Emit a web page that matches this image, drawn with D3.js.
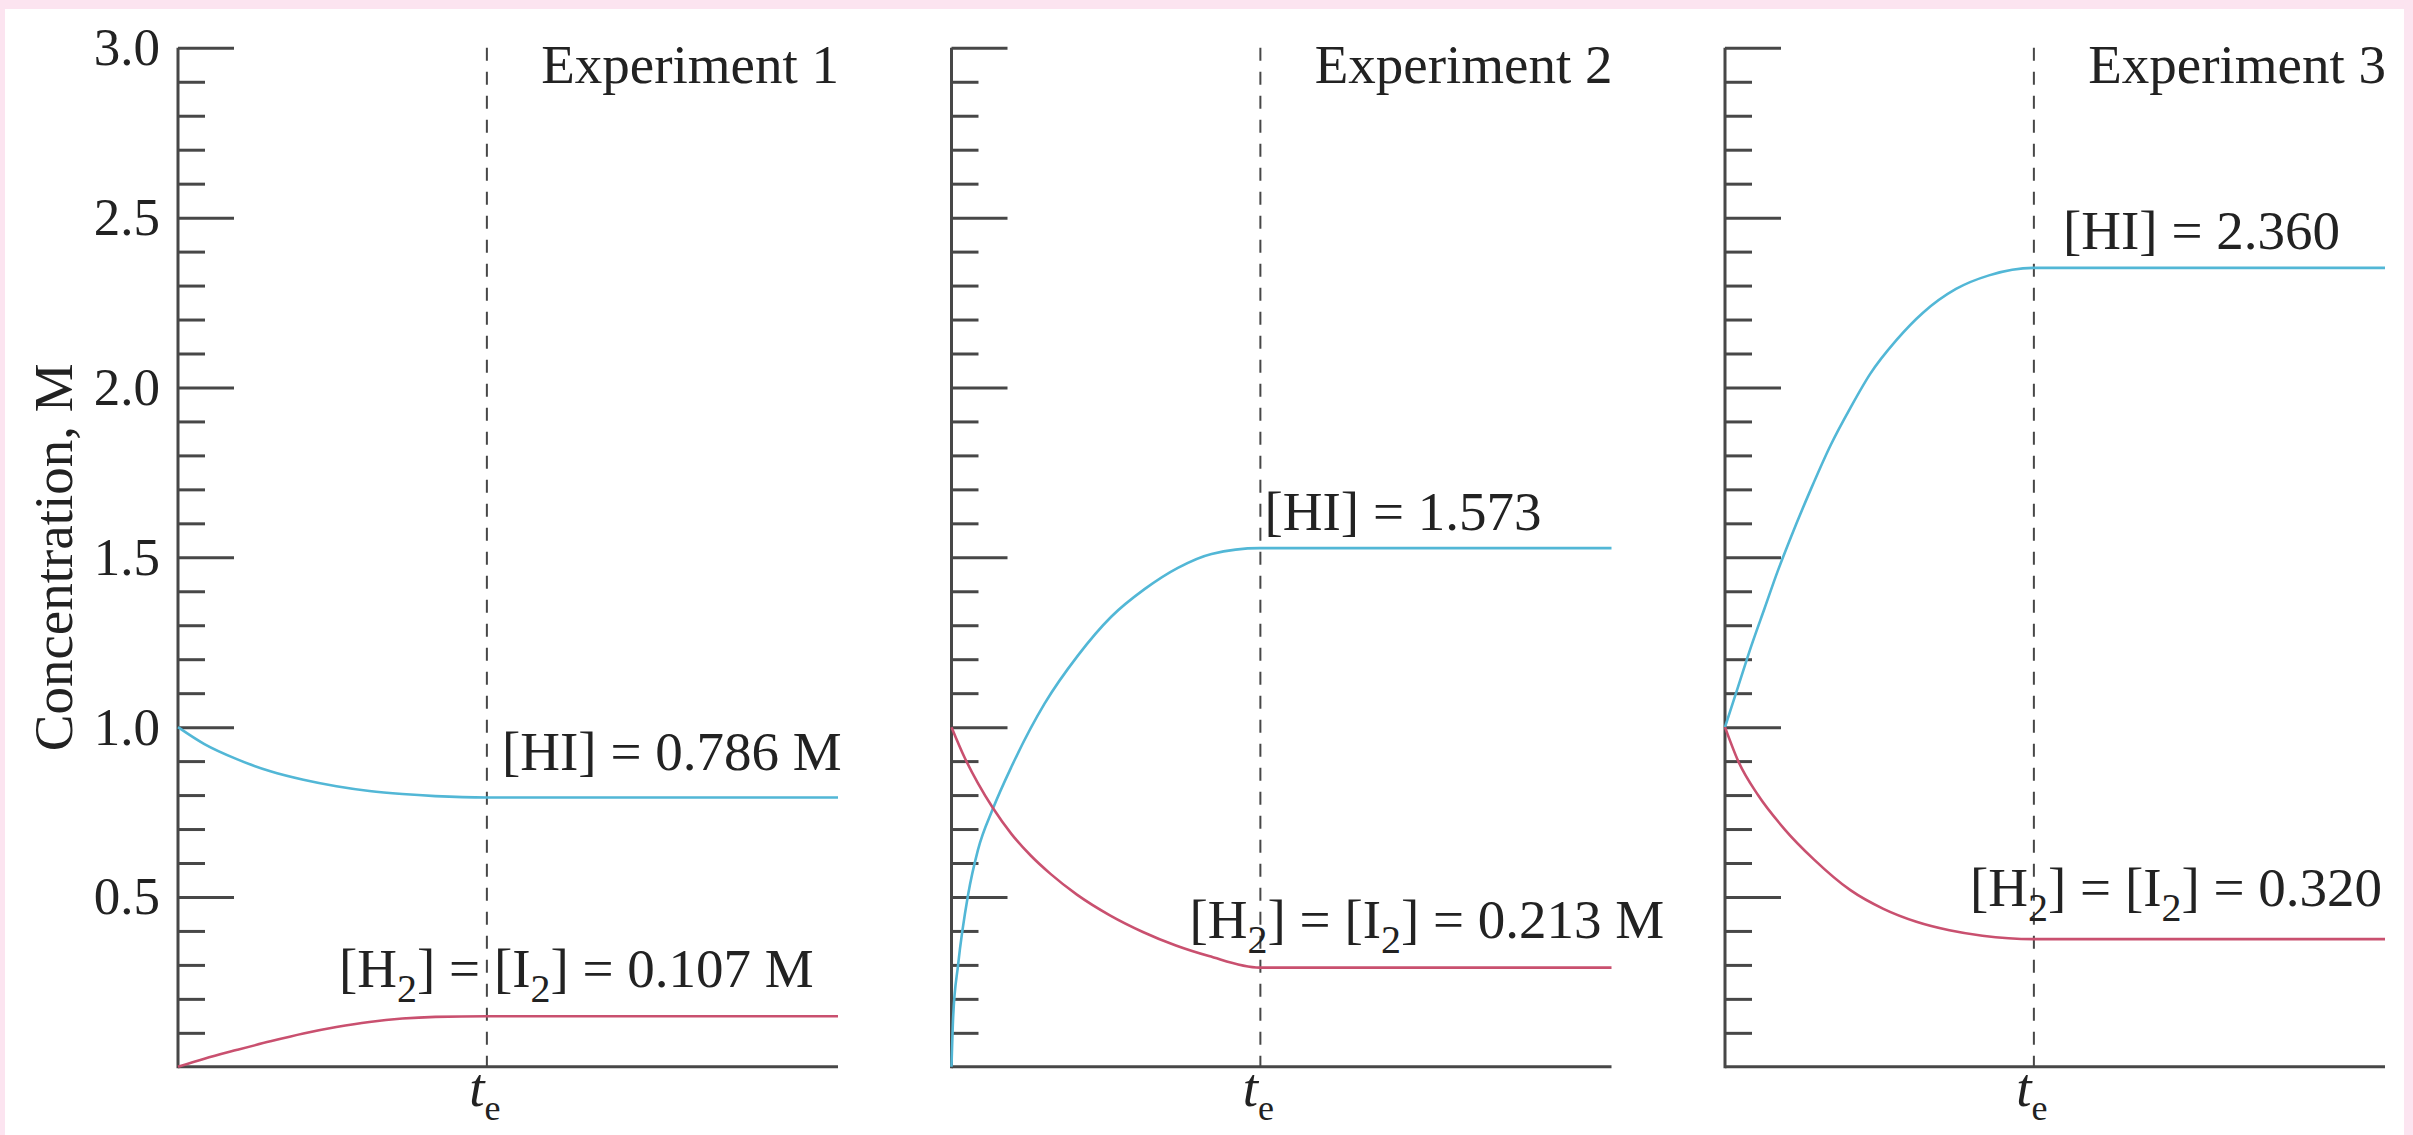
<!DOCTYPE html>
<html>
<head>
<meta charset="utf-8">
<script src="https://cdn.jsdelivr.net/npm/d3@7"></script>
<style>
  html, body { margin: 0; padding: 0; background: #fce4f0; }
  svg { display: block; }
  text { font-family: "Liberation Serif", "DejaVu Serif", serif; fill: #222; }
</style>
</head>
<body>
<svg id="chart"></svg>
<script>
// ---- data (time: 0 = start, 1 = end of axis) ----
const experiments = ['Experiment 1', 'Experiment 2', 'Experiment 3'];
const equilibriumTime = 0.468;

const hiTimes = [
    [0, 0.04, 0.09, 0.14, 0.19, 0.24, 0.29, 0.34, 0.39, 0.468, 1],
    [0, 0.0025, 0.01, 0.025, 0.04, 0.063, 0.091, 0.141, 0.192, 0.242, 0.293, 0.343, 0.394, 0.467, 1],
    [0, 0.02, 0.04, 0.06, 0.08, 0.10, 0.13, 0.16, 0.19, 0.22, 0.26, 0.30, 0.35, 0.40, 0.467, 1]
];
const hiValues = [
    [1.0, 0.95, 0.905, 0.87, 0.845, 0.826, 0.812, 0.803, 0.797, 0.793, 0.793],
    [0, 0.146, 0.30, 0.505, 0.638, 0.761, 0.884, 1.069, 1.212, 1.325, 1.407, 1.469, 1.510, 1.527, 1.527],
    [1.0, 1.12, 1.24, 1.35, 1.46, 1.56, 1.70, 1.83, 1.94, 2.04, 2.14, 2.22, 2.29, 2.33, 2.352, 2.352]
];
const h2Times = [
    [0, 0.04, 0.09, 0.14, 0.19, 0.24, 0.29, 0.34, 0.39, 0.468, 1],
    [0, 0.02, 0.04, 0.063, 0.091, 0.12, 0.15, 0.19, 0.24, 0.29, 0.34, 0.39, 0.467, 1],
    [0, 0.02, 0.05, 0.09, 0.135, 0.19, 0.24, 0.29, 0.34, 0.39, 0.467, 1]
];
const h2Values = [
    [0, 0.024, 0.05, 0.075, 0.098, 0.117, 0.132, 0.142, 0.147, 0.149, 0.149],
    [1.0, 0.91, 0.835, 0.761, 0.685, 0.622, 0.568, 0.507, 0.446, 0.397, 0.357, 0.326, 0.292, 0.292],
    [1.0, 0.9, 0.8, 0.7, 0.61, 0.52, 0.465, 0.427, 0.402, 0.386, 0.376, 0.376]
];

const hiLabels = ['[HI] = 0.786 M', '[HI] = 1.573', '[HI] = 2.360'];
const h2LabelTails = [' = 0.107 M', ' = 0.213 M', ' = 0.320'];

const majorTicks = [0.5, 1.0, 1.5, 2.0, 2.5, 3.0];
const minorTicks = d3.range(1, 30).map(i => i / 10).filter(v => Math.round(v * 10) % 5 !== 0);

// ---- layout ----
const width = 2413, height = 1135;
const panelX = [178, 951.5, 1725];
const panelWidth = 660;
const fontSize = 55;

// label placement per panel: [x offset from axis, baseline y]
const hiLabelPos = [[324, 770], [313, 530], [338, 249]];
const h2LabelPos = [[161, 987], [238, 938], [245, 906]];

const hiColor = '#52b7d6';
const h2Color = '#c9506f';
const axisColor = '#474747';

const svg = d3.select('#chart').attr('width', width).attr('height', height);

svg.append('rect').attr('width', width).attr('height', height).attr('fill', '#fce4f0');
svg.append('rect')
    .attr('x', 5).attr('y', 9)
    .attr('width', 2399).attr('height', height - 9)
    .attr('fill', '#ffffff');

const y = d3.scaleLinear().domain([0, 3]).range([1066.8, 47.8]);

const line = d3.line()
    .x(d => d[0])
    .y(d => d[1])
    .curve(d3.curveMonotoneX);

experiments.forEach((name, i) => {
    const x0 = panelX[i];
    const x = d3.scaleLinear().domain([0, 1]).range([x0, x0 + panelWidth]);
    const g = svg.append('g');

    // minor ticks
    g.append('g')
        .attr('transform', `translate(${x0},0)`)
        .call(d3.axisRight(y).tickValues(minorTicks).tickSize(27).tickFormat(''))
        .call(s => s.select('.domain').remove())
        .call(s => s.selectAll('line').attr('stroke', axisColor).attr('stroke-width', 3));

    // major ticks
    g.append('g')
        .attr('transform', `translate(${x0},0)`)
        .call(d3.axisRight(y).tickValues(majorTicks).tickSize(56).tickFormat(''))
        .call(s => s.select('.domain').remove())
        .call(s => s.selectAll('line').attr('stroke', axisColor).attr('stroke-width', 3));

    // tick labels only on the first panel
    if (i === 0) {
        g.append('g')
            .attr('transform', `translate(${x0},0)`)
            .call(d3.axisLeft(y).tickValues(majorTicks).tickSize(0).tickPadding(18).tickFormat(d3.format('.1f')))
            .call(s => s.select('.domain').remove())
            .call(s => s.selectAll('text')
                .attr('font-family', '"Liberation Serif", serif')
                .attr('font-size', 53)
                .attr('fill', '#222'));
    }

    // axis lines
    g.append('line')
        .attr('x1', x0).attr('x2', x0)
        .attr('y1', y(3)).attr('y2', y(0) + 1.5)
        .attr('stroke', axisColor).attr('stroke-width', 3);
    g.append('line')
        .attr('x1', x0).attr('x2', x(1))
        .attr('y1', y(0)).attr('y2', y(0))
        .attr('stroke', axisColor).attr('stroke-width', 3);

    // equilibrium time marker
    g.append('line')
        .attr('x1', x(equilibriumTime)).attr('x2', x(equilibriumTime))
        .attr('y1', y(3)).attr('y2', y(0))
        .attr('stroke', axisColor).attr('stroke-width', 2)
        .attr('stroke-dasharray', '13,11');

    // curves
    g.append('path')
        .attr('d', line(hiTimes[i].map((t, k) => [x(t), y(hiValues[i][k])])))
        .attr('fill', 'none')
        .attr('stroke', hiColor)
        .attr('stroke-width', 2.6);
    g.append('path')
        .attr('d', line(h2Times[i].map((t, k) => [x(t), y(h2Values[i][k])])))
        .attr('fill', 'none')
        .attr('stroke', h2Color)
        .attr('stroke-width', 2.6);

    // panel title
    g.append('text')
        .attr('x', x0 + panelWidth + 1).attr('y', 83)
        .attr('text-anchor', 'end')
        .attr('font-size', fontSize)
        .text(name);

    // HI label
    g.append('text')
        .attr('x', x0 + hiLabelPos[i][0]).attr('y', hiLabelPos[i][1])
        .attr('font-size', fontSize)
        .text(hiLabels[i]);

    // H2 / I2 label with subscripts
    const h2Text = g.append('text')
        .attr('x', x0 + h2LabelPos[i][0]).attr('y', h2LabelPos[i][1])
        .attr('font-size', fontSize);
    h2Text.append('tspan').text('[H');
    h2Text.append('tspan').attr('font-size', 40).attr('dy', 15).text('2');
    h2Text.append('tspan').attr('dy', -15).text('] = [I');
    h2Text.append('tspan').attr('font-size', 40).attr('dy', 15).text('2');
    h2Text.append('tspan').attr('dy', -15).text(']' + h2LabelTails[i]);

    // t_e label under the marker
    const te = g.append('text')
        .attr('x', x(equilibriumTime) - 2).attr('y', 1106)
        .attr('text-anchor', 'middle')
        .attr('font-size', fontSize);
    te.append('tspan').attr('font-style', 'italic').text('t');
    te.append('tspan').attr('font-size', 36).attr('dy', 14).text('e');
});

// y-axis title
svg.append('text')
    .attr('transform', `translate(72,${(y(0) + y(3)) / 2}) rotate(-90)`)
    .attr('text-anchor', 'middle')
    .attr('font-size', fontSize)
    .text('Concentration, M');
</script>
</body>
</html>
